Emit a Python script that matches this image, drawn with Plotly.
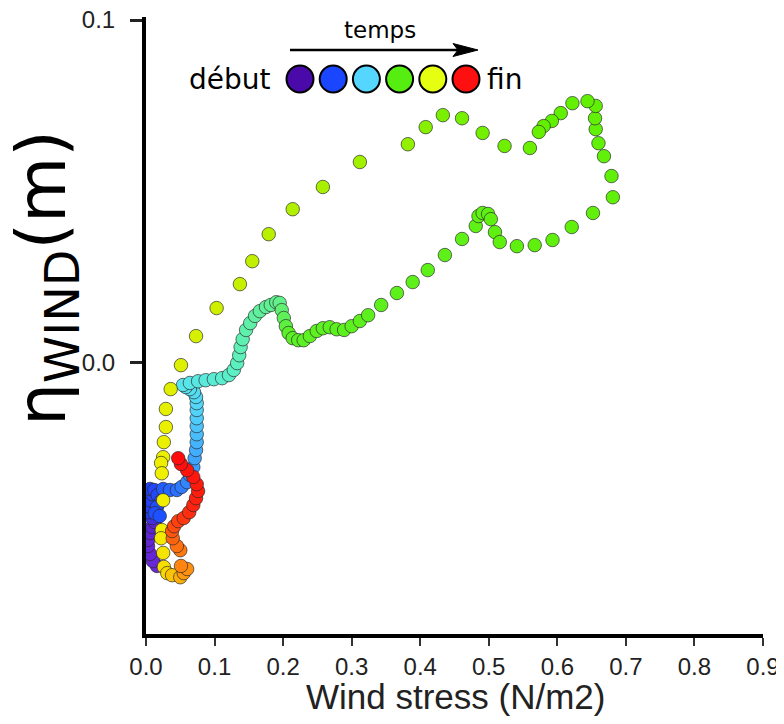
import plotly.graph_objects as go

# ---- data: trajectory (wind stress, eta) in time order ----
wind_stress = [
    # purple (start)
    0.016, 0.010, 0.006, 0.003, 0.003, 0.006, 0.009, 0.013,
    # blue
    0.009, 0.004, 0.003, 0.006, 0.009, 0.006, 0.012, 0.017, 0.022, 0.016, 0.013, 0.020,
    # light blue
    0.025, 0.035, 0.045, 0.052, 0.060, 0.064, 0.069, 0.071,
    # cyan
    0.073, 0.074, 0.074, 0.074, 0.074, 0.074, 0.074, 0.073, 0.070, 0.064, 0.058, 0.054,
    # aquamarine
    0.064, 0.076, 0.087, 0.099, 0.111, 0.121, 0.128, 0.133, 0.136, 0.138, 0.141, 0.146,
    0.152, 0.159, 0.166, 0.175, 0.182, 0.190, 0.195,
    # green
    0.198, 0.201, 0.204, 0.208, 0.214, 0.222, 0.230, 0.239, 0.249, 0.258, 0.268, 0.278,
    0.289, 0.300, 0.312, 0.324, 0.343, 0.366, 0.389, 0.411, 0.436, 0.461, 0.481, 0.485,
    0.491, 0.499, 0.503, 0.509, 0.516, 0.541, 0.567, 0.593, 0.621, 0.652, 0.681, 0.679,
    0.668, 0.660, 0.656, 0.655, 0.656, 0.644, 0.622, 0.605, 0.592, 0.580, 0.573, 0.560,
    0.523, 0.491, 0.461, 0.433, 0.408, 0.382,
    # yellow-green
    0.312, 0.258, 0.214, 0.179, 0.155, 0.137, 0.103, 0.073, 0.051, 0.036,
    # yellow
    0.029, 0.029, 0.026, 0.025, 0.022, 0.023, 0.025, 0.023, 0.022, 0.025, 0.026, 0.031,
    # orange
    0.038, 0.050, 0.055, 0.060, 0.051, 0.050, 0.045, 0.039, 0.038,
    # red (end)
    0.041, 0.047, 0.055, 0.063, 0.069, 0.073, 0.076, 0.074, 0.069, 0.060, 0.051, 0.047,
]

eta_wind = [
    -0.0596, -0.0582, -0.0561, -0.0538, -0.0520, -0.0500, -0.0482, -0.0468,
    -0.0456, -0.0439, -0.0421, -0.0404, -0.0386, -0.0371, -0.0374, -0.0389, -0.0406, -0.0424, -0.0442, -0.0450,
    -0.0371, -0.0374, -0.0374, -0.0365, -0.0351, -0.0330, -0.0307, -0.0281,
    -0.0257, -0.0234, -0.0211, -0.0187, -0.0164, -0.0140, -0.0120, -0.0102, -0.0088, -0.0079, -0.0073, -0.0067,
    -0.0061, -0.0056, -0.0053, -0.0050, -0.0047, -0.0038, -0.0023, -0.0003, 0.0020, 0.0044, 0.0067, 0.0094,
    0.0114, 0.0135, 0.0149, 0.0161, 0.0167, 0.0175, 0.0173,
    0.0152, 0.0129, 0.0105, 0.0085, 0.0070, 0.0064, 0.0064, 0.0076, 0.0091, 0.0099, 0.0102, 0.0096,
    0.0094, 0.0105, 0.0120, 0.0137, 0.0167, 0.0202, 0.0234, 0.0269, 0.0313, 0.0360, 0.0398, 0.0427,
    0.0436, 0.0433, 0.0418, 0.0380, 0.0351, 0.0339, 0.0342, 0.0357, 0.0395, 0.0436, 0.0482, 0.0544,
    0.0602, 0.0640, 0.0681, 0.0713, 0.0749, 0.0763, 0.0757, 0.0728, 0.0705, 0.0690, 0.0673, 0.0626,
    0.0632, 0.0670, 0.0713, 0.0722, 0.0687, 0.0637,
    0.0585, 0.0512, 0.0447, 0.0374, 0.0295, 0.0228, 0.0158, 0.0076, -0.0009, -0.0079,
    -0.0137, -0.0190, -0.0234, -0.0278, -0.0295, -0.0325, -0.0404, -0.0491, -0.0515, -0.0558, -0.0599, -0.0617,
    -0.0623, -0.0629, -0.0617, -0.0605, -0.0596, -0.0550, -0.0538, -0.0515, -0.0494,
    -0.0480, -0.0465, -0.0456, -0.0439, -0.0418, -0.0398, -0.0377, -0.0357, -0.0336, -0.0316, -0.0298, -0.0281,
]

time_index = list(range(len(wind_stress)))

x_tick_values = [0.0, 0.1, 0.2, 0.3, 0.4, 0.5, 0.6, 0.7, 0.8, 0.9]
x_tick_labels = ["0.0", "0.1", "0.2", "0.3", "0.4", "0.5", "0.6", "0.7", "0.8", "0.9"]
y_tick_values = [0.0, 0.1]
y_tick_labels = ["0.0", "0.1"]

legend_colors = ["#4a0aaa", "#1a46ff", "#55d6ff", "#55ee10", "#e6ff10", "#ff1010"]

# ---- colour scale along time ----
n_last = len(wind_stress) - 1
anchors = [
    (0, "#6a28d8"), (7, "#5a22d0"), (9, "#2a3cf0"), (19, "#1e50ff"), (26, "#3c9cff"),
    (33, "#52d4fa"), (39, "#58e4ec"), (46, "#5cf0c4"), (58, "#62f08a"), (62, "#5cf028"),
    (104, "#62f000"), (110, "#7af000"), (113, "#a0f000"), (117, "#c0f000"), (121, "#dcf000"),
    (124, "#eaf000"), (130, "#f2ee00"), (134, "#f8d800"), (137, "#ff9a10"), (141, "#ff7010"),
    (144, "#ff4a10"), (148, "#ff2410"), (n_last, "#ff0c0c"),
]
colorscale = [[i / n_last, c] for i, c in anchors]

fig = go.Figure()
fig.add_trace(go.Scatter(
    x=wind_stress, y=eta_wind, mode="markers",
    marker=dict(size=13.5, color=time_index, colorscale=colorscale, cmin=0, cmax=n_last,
                line=dict(width=0.8, color="rgba(40,40,40,0.85)")),
    showlegend=False, hoverinfo="x+y",
))

# ---- layout (the page has an 8px body margin) ----
OFF = 8
L, T = 138, 9
pw, ph = 617, 617
W, H = 776, 708
R, B = W - L - pw, H - T - ph

def px_x(p):
    return (p - OFF - L) / pw

def px_y(p):
    return (T + ph - (p - OFF)) / ph

sans = "Liberation Sans, Arial, Helvetica"

fig.update_layout(
    width=W, height=H,
    margin=dict(l=L, r=R, t=T, b=B, autoexpand=False),
    paper_bgcolor="white", plot_bgcolor="white",
    xaxis=dict(range=[0, 0.9], tickvals=x_tick_values, ticktext=x_tick_labels,
               showgrid=False, zeroline=False, showline=True, linewidth=4, linecolor="black",
               ticks="outside", ticklen=8, tickwidth=1.5, tickcolor="#333",
               ticklabelstandoff=0, ticklabeloverflow="allow",
               tickfont=dict(family=sans, size=24, color="#222")),
    yaxis=dict(range=[-0.0795, 0.1009], tickvals=y_tick_values, ticktext=y_tick_labels,
               showgrid=False, zeroline=False, showline=True, linewidth=4, linecolor="black",
               ticks="outside", ticklen=12, tickwidth=2.5, tickcolor="#222",
               ticklabelstandoff=10, ticklabeloverflow="allow",
               tickfont=dict(family=sans, size=24, color="#222")),
)

# x-axis title
fig.add_annotation(xref="paper", yref="paper", x=px_x(455), y=px_y(696),
                   xanchor="center", yanchor="middle",
                   text="Wind stress (N/m2)", showarrow=False,
                   font=dict(family=sans, size=35, color="#222"))

# y-axis title
fig.add_annotation(xref="paper", yref="paper", x=px_x(46), y=px_y(278),
                   xanchor="center", yanchor="middle",
                   text="η<sub>WIND</sub>(m)", textangle=-90, showarrow=False,
                   font=dict(family="DejaVu Sans", size=68, color="black"))

# legend: temps arrow, début ... fin
fig.add_annotation(xref="paper", yref="paper", x=px_x(380), y=px_y(30),
                   xanchor="center", yanchor="middle",
                   text="temps", showarrow=False,
                   font=dict(family="DejaVu Sans", size=23, color="black"))
fig.add_shape(type="line", xref="paper", yref="paper",
              x0=px_x(290), y0=px_y(50), x1=px_x(462), y1=px_y(50),
              line=dict(color="black", width=2.5))
fig.add_shape(type="path", xref="paper", yref="paper",
              path=f"M {px_x(478)} {px_y(50)} L {px_x(453)} {px_y(43.5)} L {px_x(458)} {px_y(50)} L {px_x(453)} {px_y(56.5)} Z",
              fillcolor="black", line=dict(color="black", width=1))
fig.add_annotation(xref="paper", yref="paper", x=px_x(273), y=px_y(79),
                   xanchor="right", yanchor="middle",
                   text="début", showarrow=False,
                   font=dict(family="DejaVu Sans", size=28, color="black"))
fig.add_annotation(xref="paper", yref="paper", x=px_x(485), y=px_y(79),
                   xanchor="left", yanchor="middle",
                   text="fin", showarrow=False,
                   font=dict(family="DejaVu Sans", size=28, color="black"))
r = 13.5
for i, c in enumerate(legend_colors):
    cx = 300 + i * 33.2
    fig.add_shape(type="circle", xref="paper", yref="paper",
                  x0=px_x(cx - r), x1=px_x(cx + r), y0=px_y(79 + r), y1=px_y(79 - r),
                  fillcolor=c, line=dict(color="black", width=2))

fig.write_html("out.html")
